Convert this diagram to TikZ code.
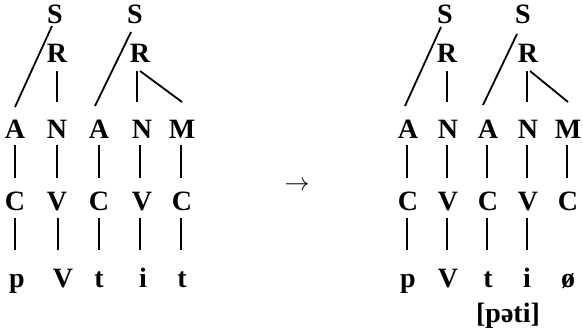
\documentclass[tikz,border=0pt]{standalone}
\usepackage{fontspec}
\setmainfont{Liberation Serif}
\usetikzlibrary{calc}
\tikzset{
  lab/.style={inner sep=0pt, anchor=base, font=\fontsize{28}{32}\selectfont\bfseries},
  ln/.style={line width=1.8pt},
}
\begin{document}
\begin{tikzpicture}[x=1pt,y=-1pt]
\path[use as bounding box, fill=white] (0,0) rectangle (583,328);
% ---------- left tree ----------
\node[lab] (lS1) at (55,24) {S};
\node[lab] (lR1) at (57,63) {R};
\node[lab] (lS2) at (135,24) {S};
\node[lab] (lR2) at (140,63) {R};
\node[lab] (lA1) at (15,139) {A};
\node[lab] (lN1) at (57,139) {N};
\node[lab] (lA2) at (99,139) {A};
\node[lab] (lN2) at (142,139) {N};
\node[lab] (lM)  at (182,139) {M};
\node[lab] (lC1) at (15,211) {C};
\node[lab] (lV1) at (57,211) {V};
\node[lab] (lC2) at (99,211) {C};
\node[lab] (lV2) at (142,211) {V};
\node[lab] (lC3) at (182,211) {C};
\node[lab] (lp)  at (17,288) {p};
\node[lab] (lVV) at (63,288) {V};
\node[lab] (lt1) at (99,288) {t};
\node[lab] (li)  at (143,288) {i};
\node[lab] (lt2) at (182,288) {t};
\draw[ln] ($(lS1.base)+(-3,2)$) -- ($(lA1.base)+(0,-32)$);
\draw[ln] ($(lR1.base)+(0,8)$) -- ($(lN1.base)+(0,-37)$);
\draw[ln] ($(lS2.base)+(-4,8)$) -- ($(lA2.base)+(-4,-33)$);
\draw[ln] ($(lR2.base)+(-3,8)$) -- ($(lN2.base)+(-5,-37)$);
\draw[ln] ($(lR2.base)+(0,8)$) -- ($(lM.base)+(0,-37)$);
\foreach \u/\dx in {lA1/0, lN1/0, lA2/0, lN2/-2, lM/-1}{
  \draw[ln] ($(\u.base)+(\dx,6)$) -- ($(\u.base)+(\dx,39)$);
}
\foreach \u/\dx in {lC1/0, lV1/1, lC2/0, lV2/-2, lC3/-1}{
  \draw[ln] ($(\u.base)+(\dx,7)$) -- ($(\u.base)+(\dx,39)$);
}
% ---------- arrow ----------
\node[inner sep=0pt, font=\fontsize{25}{30}\selectfont] (arr) at (297,186) {$\rightarrow$};
% ---------- right tree ----------
\node[lab] (rS1) at (445,24) {S};
\node[lab] (rR1) at (447,63) {R};
\node[lab] (rS2) at (523,24) {S};
\node[lab] (rR2) at (528,63) {R};
\node[lab] (rA1) at (408,139) {A};
\node[lab] (rN1) at (448,139) {N};
\node[lab] (rA2) at (488,139) {A};
\node[lab] (rN2) at (528,139) {N};
\node[lab] (rM)  at (568,139) {M};
\node[lab] (rC1) at (408,211) {C};
\node[lab] (rV1) at (448,211) {V};
\node[lab] (rC2) at (488,211) {C};
\node[lab] (rV2) at (528,211) {V};
\node[lab] (rC3) at (568,211) {C};
\node[lab] (rp)  at (408,288) {p};
\node[lab] (rVV) at (448,288) {V};
\node[lab] (rt1) at (488,288) {t};
\node[lab] (ri)  at (527,288) {i};
\node[lab] (ro)  at (568,288) {ø};
\node[lab] (ipa) at (508,322) {[pəti]};
\draw[ln] ($(rS1.base)+(-4,3)$) -- ($(rA1.base)+(-3,-33)$);
\draw[ln] ($(rR1.base)+(0,8)$) -- ($(rN1.base)+(-1,-37)$);
\draw[ln] ($(rS2.base)+(-6,10)$) -- ($(rA2.base)+(-5,-34)$);
\draw[ln] ($(rR2.base)+(-1,8)$) -- ($(rN2.base)+(-1,-37)$);
\draw[ln] ($(rR2.base)+(2,8)$) -- ($(rM.base)+(0,-37)$);
\foreach \u in {rA1, rN1, rA2, rN2, rM}{
  \draw[ln] ($(\u.base)+(-1,6)$) -- ($(\u.base)+(-1,39)$);
}
\foreach \u in {rC1, rV1, rC2, rV2}{
  \draw[ln] ($(\u.base)+(-1,7)$) -- ($(\u.base)+(-1,39)$);
}
\end{tikzpicture}
\end{document}
